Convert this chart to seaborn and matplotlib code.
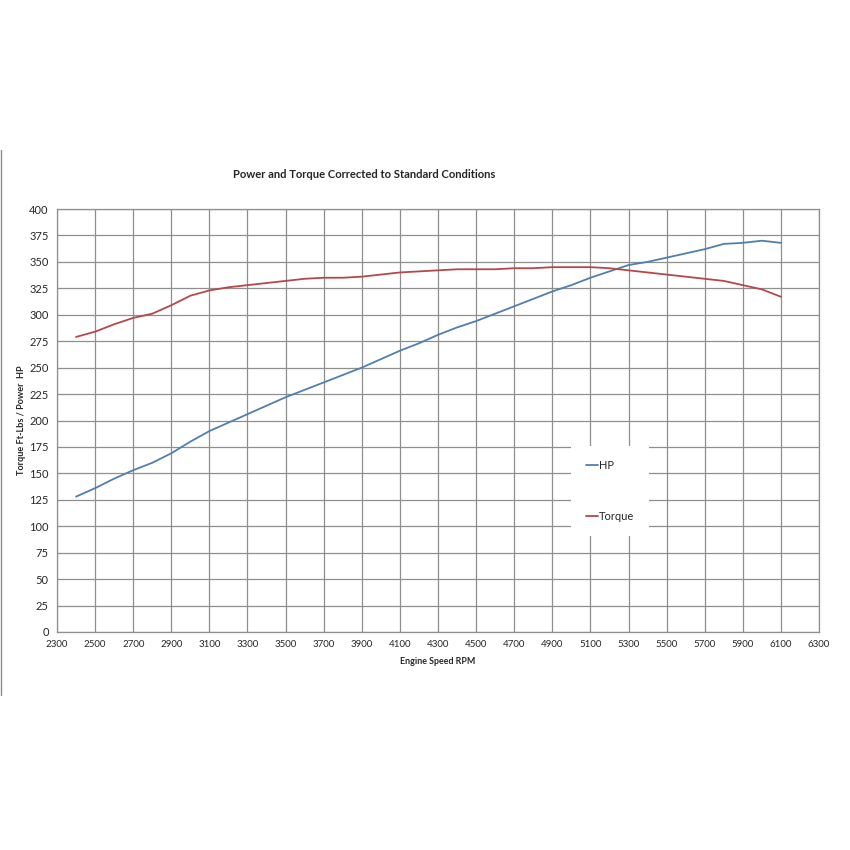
import matplotlib
matplotlib.use("Agg")
import matplotlib.pyplot as plt
import seaborn as sns
import pandas as pd
from matplotlib.lines import Line2D

rpm = [2400, 2500, 2600, 2700, 2800, 2900, 3000, 3100, 3200, 3300, 3400, 3500, 3600,
       3700, 3800, 3900, 4000, 4100, 4200, 4300, 4400, 4500, 4600, 4700, 4800, 4900,
       5000, 5100, 5200, 5300, 5400, 5500, 5600, 5700, 5800, 5900, 6000, 6100]
hp = [128, 136, 145, 153, 160, 169, 180, 190, 198, 206, 214, 222, 229,
      236, 243, 250, 258, 266, 273, 281, 288, 294, 301, 308, 315, 322,
      328, 335, 341, 347, 350, 354, 358, 362, 367, 368, 370, 368]
torque = [279, 284, 291, 297, 301, 309, 318, 323, 326, 328, 330, 332, 334,
          335, 335, 336, 338, 340, 341, 342, 343, 343, 343, 344, 344, 345,
          345, 345, 344, 342, 340, 338, 336, 334, 332, 328, 324, 317]
x_ticks = list(range(2300, 6301, 200))
y_ticks = list(range(0, 401, 25))
title = "Power and Torque Corrected to Standard Conditions"
xlabel = "Engine Speed RPM"
ylabel = "Torque Ft-Lbs / Power  HP"

df = pd.concat([
    pd.DataFrame({"rpm": rpm, "value": hp, "series": "HP"}),
    pd.DataFrame({"rpm": rpm, "value": torque, "series": "Torque"}),
])

sns.set_style("white")
plt.rcParams['font.family'] = ['Lato', 'DejaVu Sans']

fig = plt.figure(figsize=(8.5, 8.5), dpi=100)
ax = fig.add_axes([57/850, 1-632/850, (819-57)/850, (632-209)/850])

sns.lineplot(data=df, x="rpm", y="value", hue="series",
             palette={"HP": "#4F7FAE", "Torque": "#B5484A"},
             linewidth=1.3, ax=ax)

ax.set_xlim(2300, 6300)
ax.set_ylim(0, 400)
ax.set_xticks(x_ticks)
ax.set_yticks(y_ticks)
ax.set_xticklabels([str(t) for t in x_ticks], fontsize=7)
ax.set_yticklabels([str(t) for t in y_ticks], fontsize=8)
ax.tick_params(length=0, pad=6)
ax.grid(True, color="#8f8f8f", linewidth=0.9)
ax.set_axisbelow(True)
for s in ax.spines.values():
    s.set_color("#8f8f8f")
    s.set_linewidth(0.9)
ax.set_xlabel("")
ax.set_ylabel("")

fig.text(364/850, 1-175/850, title, ha="center", va="center",
         fontsize=8.1, fontweight="bold")
fig.text(438/850, 1-661/850, xlabel, ha="center", va="center",
         fontsize=6.4, fontweight="bold")
fig.text(22/850, 1-420/850, ylabel, ha="center", va="center",
         fontsize=6.6, fontweight="bold", rotation=90)

leg = ax.legend(loc="center", bbox_to_anchor=(610/850, 1-491/850),
                bbox_transform=fig.transFigure, fontsize=8,
                frameon=True, fancybox=False, facecolor="white",
                edgecolor="none", framealpha=1, labelspacing=3.6,
                handlelength=1.1, handletextpad=0.1, borderpad=1.3,
                borderaxespad=0)
leg.get_frame().set_linewidth(0)

fig.add_artist(Line2D([1/850, 1/850], [1-150/850, 1-695/850],
                      color="#8c8c8c", linewidth=1.0))

fig.savefig("out.png", dpi=100, facecolor="white")
